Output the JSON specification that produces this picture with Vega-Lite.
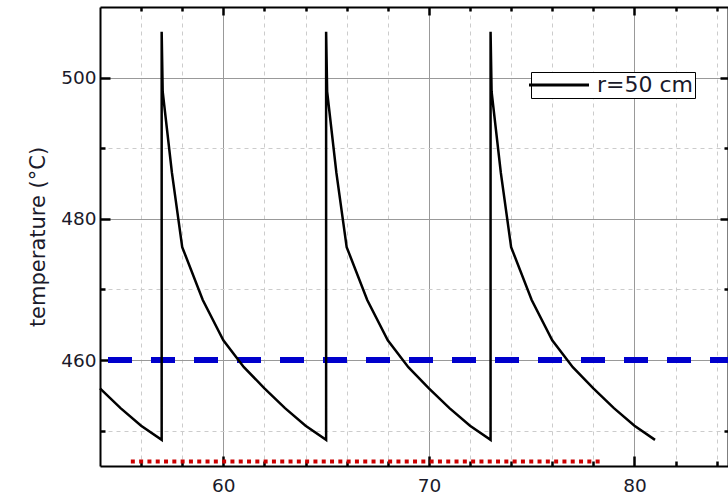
{
  "$schema": "https://vega.github.io/schema/vega-lite/v6.json",
  "width": 628,
  "height": 459,
  "autosize": {"type": "none"},
  "padding": {"left": 100, "top": 7, "right": 0, "bottom": 26},
  "background": "white",
  "config": {"view": {"stroke": null}, "font": "DejaVu Sans"},
  "datasets": {
    "curve": [
      {"i": 0, "x": 54, "T": 456.0},
      {"i": 1, "x": 55, "T": 453.2},
      {"i": 2, "x": 56, "T": 450.7},
      {"i": 3, "x": 57, "T": 448.7},
      {"i": 4, "x": 57, "T": 506.5},
      {"i": 5, "x": 57.05, "T": 498.0},
      {"i": 6, "x": 57.5, "T": 486.5},
      {"i": 7, "x": 58, "T": 476.0},
      {"i": 8, "x": 59, "T": 468.5},
      {"i": 9, "x": 60, "T": 462.8},
      {"i": 10, "x": 61, "T": 459.0},
      {"i": 11, "x": 62, "T": 456.0},
      {"i": 12, "x": 63, "T": 453.2},
      {"i": 13, "x": 64, "T": 450.7},
      {"i": 14, "x": 65, "T": 448.7},
      {"i": 15, "x": 65, "T": 506.5},
      {"i": 16, "x": 65.05, "T": 498.0},
      {"i": 17, "x": 65.5, "T": 486.5},
      {"i": 18, "x": 66, "T": 476.0},
      {"i": 19, "x": 67, "T": 468.5},
      {"i": 20, "x": 68, "T": 462.8},
      {"i": 21, "x": 69, "T": 459.0},
      {"i": 22, "x": 70, "T": 456.0},
      {"i": 23, "x": 71, "T": 453.2},
      {"i": 24, "x": 72, "T": 450.7},
      {"i": 25, "x": 73, "T": 448.7},
      {"i": 26, "x": 73, "T": 506.5},
      {"i": 27, "x": 73.05, "T": 498.0},
      {"i": 28, "x": 73.5, "T": 486.5},
      {"i": 29, "x": 74, "T": 476.0},
      {"i": 30, "x": 75, "T": 468.5},
      {"i": 31, "x": 76, "T": 462.8},
      {"i": 32, "x": 77, "T": 459.0},
      {"i": 33, "x": 78, "T": 456.0},
      {"i": 34, "x": 79, "T": 453.2},
      {"i": 35, "x": 80, "T": 450.7},
      {"i": 36, "x": 81, "T": 448.7}
    ],
    "blue": [{"x1": 54, "x2": 84.55, "y": 460}],
    "red": [{"x1": 55.5, "x2": 78.35, "y": 445.65}]
  },
  "layer": [
    {
      "data": {"name": "blue"},
      "mark": {"type": "rule", "color": "#0000cc", "strokeWidth": 6, "strokeDash": [24, 19], "strokeDashOffset": 35, "strokeCap": "butt"},
      "encoding": {
        "x": {
          "field": "x1", "type": "quantitative",
          "scale": {"domain": [54, 84.55], "nice": false, "zero": false},
          "axis": {
            "orient": "bottom",
            "values": [56, 58, 60, 62, 64, 66, 68, 70, 72, 74, 76, 78, 80, 82, 84],
            "labelExpr": "datum.value % 10 == 0 ? datum.label : ''",
            "tickSize": {"condition": {"test": "datum.value % 10 == 0", "value": -10}, "value": -5},
            "tickWidth": 2.5, "tickColor": "black",
            "domainColor": "black", "domainWidth": 2,
            "grid": true,
            "gridColor": {"condition": {"test": "datum.value % 10 == 0", "value": "#999999"}, "value": "#cccccc"},
            "gridDash": {"condition": {"test": "datum.value % 10 == 0", "value": []}, "value": [4, 4]},
            "gridWidth": 1,
            "labelFont": "DejaVu Sans", "labelFontSize": 18.5, "labelColor": "#1a1a2a", "labelPadding": 20,
            "labelFlush": false,
            "title": null
          }
        },
        "x2": {"field": "x2"},
        "y": {
          "field": "y", "type": "quantitative",
          "scale": {"domain": [445, 510], "nice": false, "zero": false},
          "axis": {
            "orient": "left",
            "values": [450, 460, 470, 480, 490, 500],
            "labelExpr": "datum.value % 20 == 0 ? datum.label : ''",
            "tickSize": {"condition": {"test": "datum.value % 20 == 0", "value": -10}, "value": -5},
            "tickWidth": 2.5, "tickColor": "black",
            "domainColor": "black", "domainWidth": 2,
            "grid": true,
            "gridColor": {"condition": {"test": "datum.value % 20 == 0", "value": "#999999"}, "value": "#cccccc"},
            "gridDash": {"condition": {"test": "datum.value % 20 == 0", "value": []}, "value": [4, 4]},
            "gridWidth": 1,
            "labelFont": "DejaVu Sans", "labelFontSize": 18.5, "labelColor": "#1a1a2a", "labelPadding": 14,
            "labelFlush": false,
            "title": "temperature (°C)",
            "titleFont": "DejaVu Sans", "titleFontSize": 21, "titleFontWeight": "normal", "titleColor": "#1a1a2a",
            "titlePadding": 12
          }
        }
      }
    },
    {
      "data": {"name": "red"},
      "mark": {"type": "rule", "color": "#cc0000", "strokeWidth": 4, "strokeDash": [4, 4.3], "strokeCap": "butt"},
      "encoding": {
        "x": {
          "field": "x1", "type": "quantitative",
          "axis": {
            "orient": "top",
            "values": [56, 58, 60, 62, 64, 66, 68, 70, 72, 74, 76, 78, 80, 82, 84],
            "labels": false,
            "tickSize": {"condition": {"test": "datum.value % 10 == 0", "value": -8}, "value": -4},
            "tickWidth": 2.5, "tickColor": "black",
            "domainColor": "black", "domainWidth": 2,
            "grid": false,
            "title": null
          }
        },
        "x2": {"field": "x2"},
        "y": {
          "field": "y", "type": "quantitative",
          "axis": {
            "orient": "right",
            "values": [450, 460, 470, 480, 490, 500],
            "labels": false,
            "tickSize": {"condition": {"test": "datum.value % 20 == 0", "value": -8}, "value": -4},
            "tickWidth": 2.5, "tickColor": "black",
            "domainColor": "black", "domainWidth": 2,
            "grid": false,
            "title": null
          }
        }
      }
    },
    {
      "data": {"name": "curve"},
      "mark": {"type": "line", "strokeWidth": 2.5},
      "encoding": {
        "x": {"field": "x", "type": "quantitative", "axis": null},
        "y": {"field": "T", "type": "quantitative", "axis": null},
        "order": {"field": "i", "type": "quantitative"},
        "color": {
          "datum": "r=50 cm", "type": "nominal",
          "scale": {"range": ["#000000"]},
          "legend": {
            "title": null,
            "orient": "none",
            "legendX": 431,
            "legendY": 65,
            "padding": 2,
            "fillColor": "white",
            "strokeColor": "black",
            "cornerRadius": 0,
            "symbolType": "M-3,0H9",
            "symbolSize": 100,
            "symbolStrokeWidth": 3,
            "symbolStrokeColor": "black",
            "labelOffset": 42,
            "labelFont": "DejaVu Sans",
            "labelFontSize": 22,
            "labelColor": "#1a1a2a",
            "labelLimit": 300
          }
        }
      }
    }
  ],
  "resolve": {"axis": {"x": "independent", "y": "independent"}}
}
